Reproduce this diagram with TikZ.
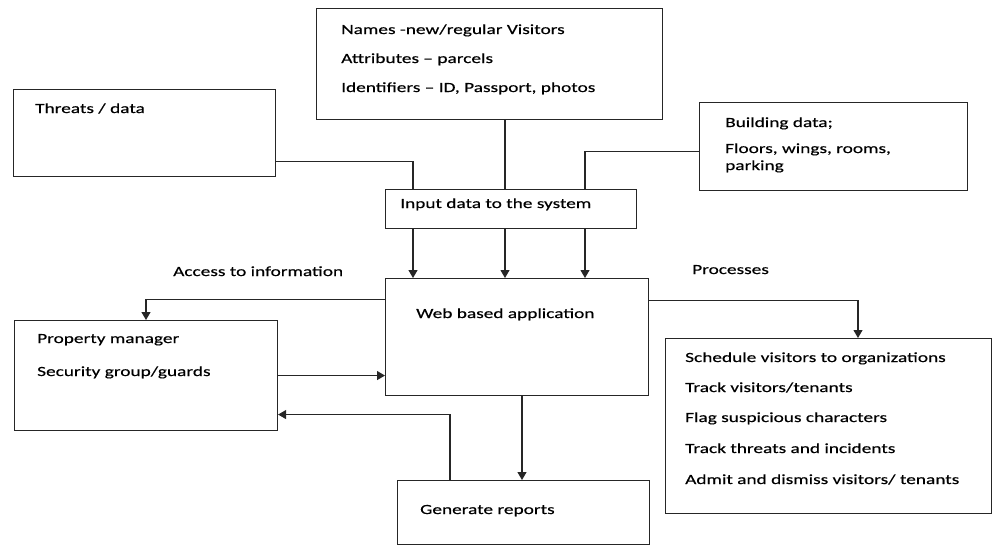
\documentclass[tikz,border=0pt]{standalone}
\usepackage{fontspec}
\setmainfont{Carlito}[FakeStretch=1.38,FakeBold=0.4]
\usetikzlibrary{arrows.meta}
\begin{document}
\begin{tikzpicture}[x=1pt,y=-1pt,
  box/.style={draw=black!85,line width=1.1pt,rectangle,anchor=north west,inner sep=0pt},
  txt/.style={anchor=base west,inner sep=0pt,font=\fontsize{14}{16}\selectfont},
  link/.style={draw=black!85,line width=1.1pt},
  flow/.style={link,-{Triangle[length=8pt,width=9pt]}}]
\useasboundingbox (0,0) rectangle (997,550);

% boxes
\node[box,minimum width=346pt,minimum height=111pt] (names) at (316,8) {};
\node[box,minimum width=262pt,minimum height=87pt] (threats) at (13,89) {};
\node[box,minimum width=268pt,minimum height=88pt] (building) at (699,102) {};
\node[box,minimum width=251pt,minimum height=39pt] (inp) at (385,189) {};
\node[box,minimum width=263pt,minimum height=117pt] (web) at (385,278) {};
\node[box,minimum width=263pt,minimum height=110pt] (prop) at (14,320) {};
\node[box,minimum width=326pt,minimum height=175pt] (proc) at (665,338) {};
\node[box,minimum width=252pt,minimum height=64pt] (gen) at (397,480) {};

% texts
\node[txt] (n1) at (341,34) {Names -new/regular Visitors};
\node[txt] (n2) at (341,63) {Attributes – parcels};
\node[txt] (n3) at (341,92) {Identifiers – ID, Passport, photos};
\node[txt] (th) at (35,113) {Threats / data};
\node[txt] (b1) at (725,127) {Building data;};
\node[txt] (b2) at (725,153) {Floors, wings, rooms,};
\node[txt] (b3) at (725,170) {parking};
\node[txt] (it) at (400,208) {Input data to the system};
\node[txt] (acc) at (173,276) {Access to information};
\node[txt] (prc) at (692,274) {Processes};
\node[txt] (wt) at (416,318) {Web based application};
\node[txt] (p1) at (37,343) {Property manager};
\node[txt] (p2) at (37,376) {Security group/guards};
\node[txt] (s1) at (685,362) {Schedule visitors to organizations};
\node[txt] (s2) at (685,392) {Track visitors/tenants};
\node[txt] (s3) at (685,422) {Flag suspicious characters};
\node[txt] (s4) at (685,453) {Track threats and incidents};
\node[txt] (s5) at (685,484) {Admit and dismiss visitors/ tenants};
\node[txt] (gt) at (420,514) {Generate reports};

% inputs feeding the system
\draw[link] ([yshift=16pt]threats.south east) -| ([xshift=28pt]inp.north west);
\draw[link] ([xshift=120pt]inp.north west) -- ([xshift=120pt]inp.north west |- names.south);
\draw[link] ([yshift=-5pt]building.west) -| ([xshift=200pt]inp.north west);

% system to application
\draw[flow] ([xshift=28pt]inp.south west) -- ([xshift=28pt]inp.south west |- web.north);
\draw[flow] ([xshift=120pt]inp.south west) -- ([xshift=120pt]inp.south west |- web.north);
\draw[flow] ([xshift=200pt]inp.south west) -- ([xshift=200pt]inp.south west |- web.north);

% application outputs
\draw[flow] ([yshift=37.5pt]web.west) -| ([xshift=132pt]prop.north west);
\draw[flow] ([yshift=36.5pt]web.east) -| ([xshift=193pt]proc.north west);
\draw[flow] (prop.east) -- (prop.east -| web.west);
\draw[flow] ([xshift=137pt]web.south west) -- ([xshift=137pt]web.south west |- gen.north);
\draw[flow] ([xshift=53pt]gen.north west) |- ([yshift=-39pt]prop.east);
\end{tikzpicture}
\end{document}
